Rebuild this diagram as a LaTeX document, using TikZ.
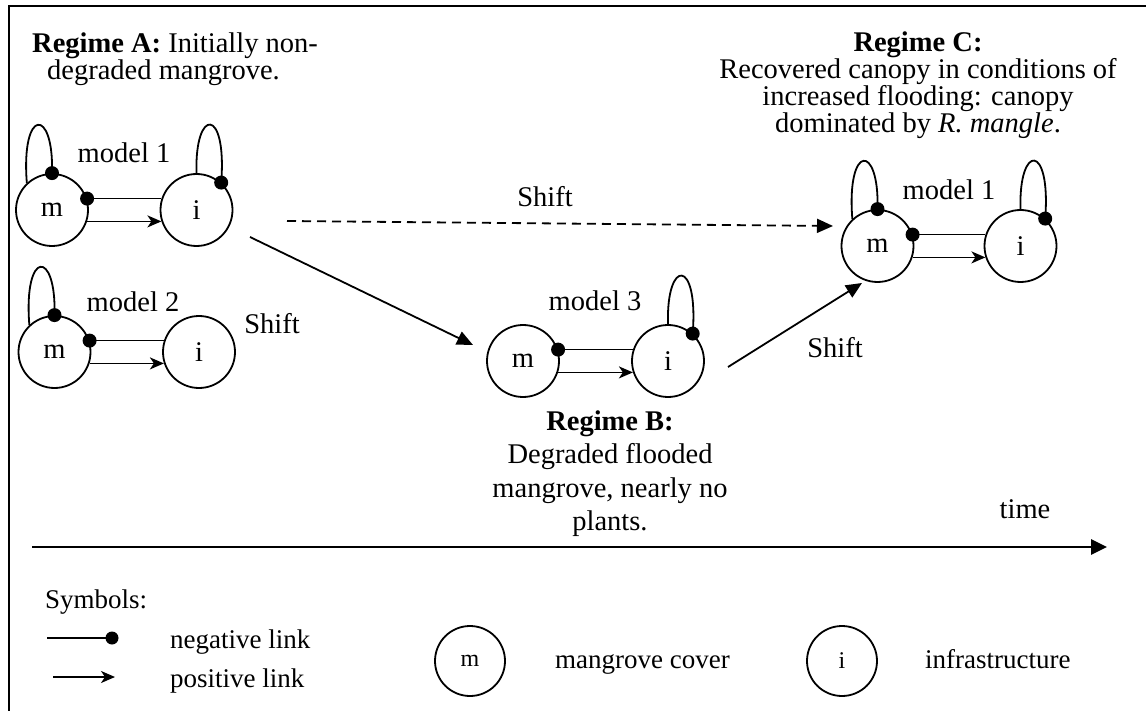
\documentclass[tikz,border=0pt]{standalone}
\usepackage{fontspec}
\setmainfont{Liberation Serif}
\usetikzlibrary{arrows.meta}
\begin{document}
\begin{tikzpicture}[x=1pt,y=-1pt,
  every node/.style={font=\fontsize{28.5}{28.5}\selectfont},
  statenode/.style={circle,draw,line width=1.8pt,minimum size=72pt,inner sep=0pt},
  legstate/.style={statenode,minimum size=70pt,font=\fontsize{24}{24}\selectfont},
  linkline/.style={line width=1.8pt},
  poslink/.style={linkline,-{Stealth[length=14pt,width=12pt,inset=4pt]}},
  shiftarr/.style={line width=1.8pt,-{Triangle[length=16pt,width=14pt]}},
  txtline/.style={inner sep=0pt,anchor=base},
  legtext/.style={inner sep=0pt,anchor=base west,font=\fontsize{27}{27}\selectfont}
]
\useasboundingbox (0,0) rectangle (1146,711);
% frame
\draw[line width=2.5pt] (9,711) -- (9,6) -- (1146,6);

% ---------- Regime A texts ----------
\node[txtline,anchor=base west] (ra1) at (32,53) {\textbf{Regime A:} Initially non-};
\node[txtline,anchor=base west] (ra2) at (47,80) {degraded mangrove.};

% ---------- Regime C texts ----------
\node[txtline] (rc1) at (918,52) {\textbf{Regime C:}};
\node[txtline] (rc2) at (918,79) {Recovered canopy in conditions of};
\node[txtline] (rc3) at (918,106) {increased flooding: canopy};
\node[txtline] (rc4) at (918,133) {dominated by \textit{R. mangle}.};

% ---------- Regime B texts ----------
\node[txtline] (rb1) at (610,430) {\textbf{Regime B:}};
\node[txtline] (rb2) at (610,463) {Degraded flooded};
\node[txtline] (rb3) at (610,497) {mangrove, nearly no};
\node[txtline] (rb4) at (610,530) {plants.};

% ---------- Model 1 (A) ----------
\node[statenode] (ma1) at (52,210) {m};
\node[statenode] (ia1) at (196.5,210) {i};
\node[txtline] (lma1) at (124,163) {model 1};
\draw[linkline] (ma1.18) -- (ia1.162);
\fill (ma1.18) circle (7pt);
\draw[poslink] (ma1.-18) -- (ia1.198);
\draw[linkline] (ma1.133) .. controls +(-6,-76) and +(2,-66) .. (ma1.90);
\fill (ma1.90) circle (7pt);
\draw[linkline] (ia1.90) .. controls +(-2,-66) and +(6,-76) .. (ia1.48);
\fill (ia1.48) circle (7pt);

% ---------- Model 2 (A) ----------
\node[statenode] (ma2) at (54.5,352) {m};
\node[statenode] (ia2) at (199,352) {i};
\node[txtline] (lma2) at (133,312) {model 2};
\draw[linkline] (ma2.18) -- (ia2.162);
\fill (ma2.18) circle (7pt);
\draw[poslink] (ma2.-18) -- (ia2.198);
\draw[linkline] (ma2.133) .. controls +(-6,-76) and +(2,-66) .. (ma2.90);
\fill (ma2.90) circle (7pt);

% ---------- Model 3 (B) ----------
\node[statenode] (mb) at (523,361) {m};
\node[statenode] (ib) at (668,361) {i};
\node[txtline] (lmb) at (595,311) {model 3};
\draw[linkline] (mb.18) -- (ib.162);
\fill (mb.18) circle (7pt);
\draw[poslink] (mb.-18) -- (ib.198);
\draw[linkline] (ib.90) .. controls +(-2,-66) and +(6,-76) .. (ib.48);
\fill (ib.48) circle (7pt);

% ---------- Model 1 (C) ----------
\node[statenode] (mc) at (877.5,246) {m};
\node[statenode] (ic) at (1020.5,246) {i};
\node[txtline] (lmc) at (949,200) {model 1};
\draw[linkline] (mc.18) -- (ic.162);
\fill (mc.18) circle (7pt);
\draw[poslink] (mc.-18) -- (ic.198);
\draw[linkline] (mc.133) .. controls +(-6,-76) and +(2,-66) .. (mc.90);
\fill (mc.90) circle (7pt);
\draw[linkline] (ic.90) .. controls +(-2,-66) and +(6,-76) .. (ic.48);
\fill (ic.48) circle (7pt);

% ---------- Shifts ----------
\coordinate (sab1) at (250,237);
\coordinate (sab2) at (473,345);
\draw[shiftarr] (sab1) -- (sab2);
\node[txtline] (shab) at (272,334) {Shift};

\coordinate (sac1) at (287,221);
\coordinate (sac2) at (833,226);
\draw[shiftarr,dash pattern=on 9pt off 6pt] (sac1) -- (sac2);
\node[txtline] (shac) at (545,207) {Shift};

\coordinate (sbc1) at (728,367);
\coordinate (sbc2) at (862,283);
\draw[shiftarr] (sbc1) -- (sbc2);
\node[txtline] (shbc) at (835,357) {Shift};

% ---------- time axis ----------
\coordinate (t1) at (32,547);
\coordinate (t2) at (1107,547);
\draw[line width=2.6pt,-{Triangle[length=16pt,width=15pt]}] (t1) -- (t2);
\node[txtline] (time) at (1025,518) {time};

% ---------- legend ----------
\node[legtext] (sym) at (45,608) {Symbols:};
\coordinate (ln1) at (47,638);
\coordinate (ln2) at (112,638);
\draw[linkline] (ln1) -- (ln2);
\fill (ln2) circle (6.5pt);
\node[legtext] (negl) at (170,648) {negative link};
\coordinate (lp1) at (53,677);
\coordinate (lp2) at (115,677);
\draw[poslink] (lp1) -- (lp2);
\node[legtext] (posl) at (170,687) {positive link};
\node[legstate] (lm) at (470,661) {m};
\node[legtext] (lmt) at (555,668) {mangrove cover};
\node[legstate] (li) at (842,661) {i};
\node[legtext] (lit) at (925,668) {infrastructure};
\end{tikzpicture}
\end{document}
